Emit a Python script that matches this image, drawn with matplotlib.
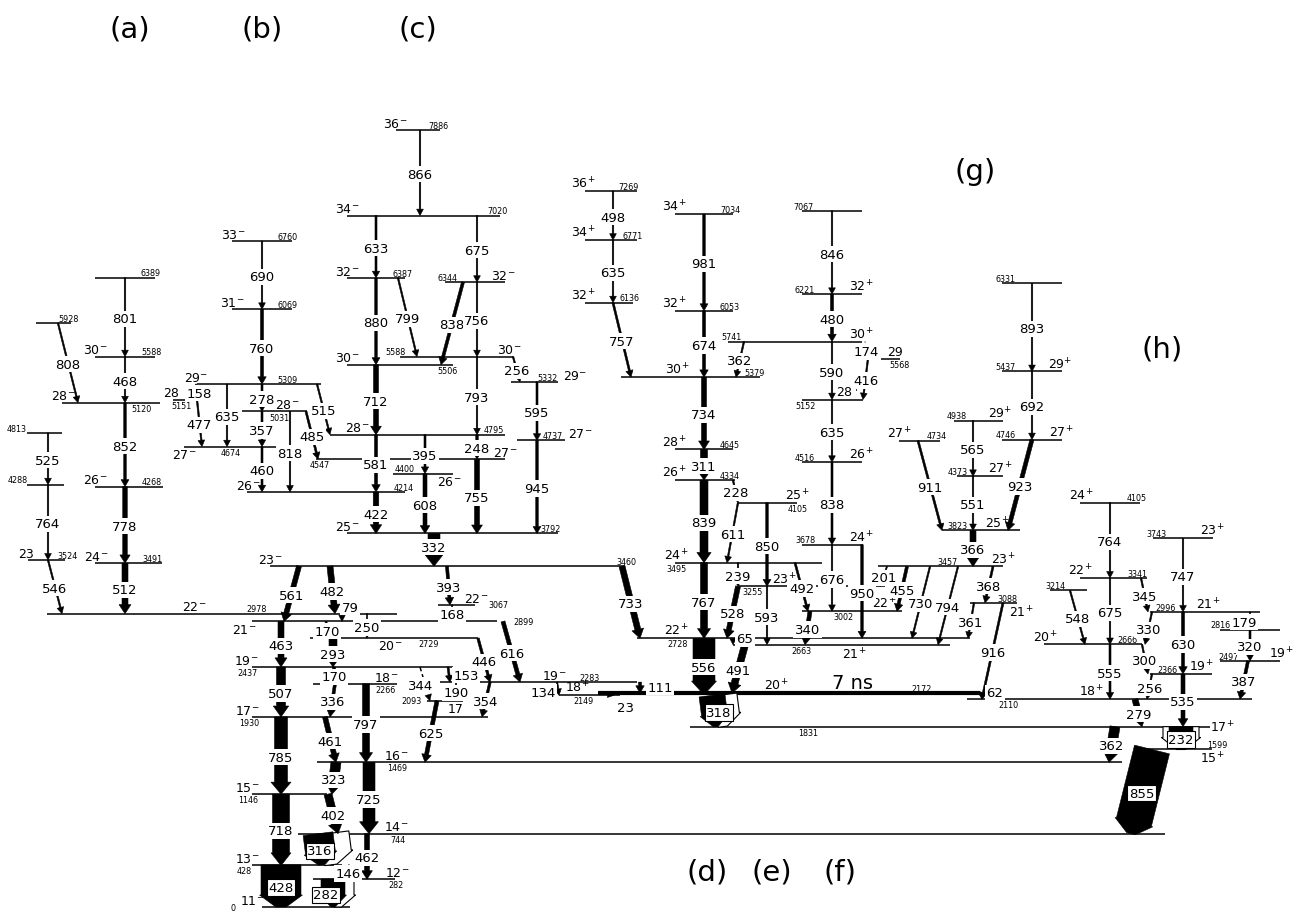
import numpy as np
import matplotlib
matplotlib.use("Agg")
import matplotlib.pyplot as plt
from matplotlib.patches import Polygon
from matplotlib.transforms import IdentityTransform

plt.rcParams['font.family'] = ['DejaVu Sans']
plt.rcParams['mathtext.default'] = 'regular'

# level energies (keV) and spins, one dict per band
band_a = {'a6389': (6389, ''), 'a5928': (5928, ''), 'a5588': (5588, '30-'), 'a5120': (5120, '28-'),
          'a4813': (4813, ''), 'a4288': (4288, ''), 'a4268': (4268, '26-'), 'a3524': (3524, '23'),
          'a3491': (3491, '24-'), 'a2978': (2978, '22-')}
band_b = {'b6760': (6760, '33-'), 'b6069': (6069, '31-'), 'b5309': (5309, '29-'), 'b5151': (5151, '28'),
          'b5031': (5031, '28-'), 'b4674': (4674, '27-'), 'b4547': (4547, '27-'), 'b4214': (4214, '26-')}
band_c = {'c7886': (7886, '36-'), 'c7020': (7020, '34-'), 'c6387': (6387, '32-'), 'c6344': (6344, '32-'),
          'c5588': (5588, '30-'), 'c5506': (5506, '30-'), 'c5332': (5332, '29-'), 'c4795': (4795, '28-'),
          'c4737': (4737, '27-'), 'c4400': (4400, '26-'), 'c3792': (3792, '25-')}
band_low = {'n3460': (3460, '23-'), 'n3067': (3067, '22-'), 'n2899': (2899, '21-'), 'n2729': (2729, '20-'),
            'n2437': (2437, '19-'), 'n2283': (2283, '19-'), 'n2266': (2266, '18-'), 'n2149': (2149, '18+'),
            'n2093': (2093, '17'), 'n1930': (1930, '17-'), 'n1469': (1469, '16-'), 'n1146': (1146, '15-'),
            'n744': (744, '14-'), 'n428': (428, '13-'), 'n282': (282, '12-'), 'n0': (0, '11-')}
band_d = {'d7269': (7269, '36+'), 'd6771': (6771, '34+'), 'd6136': (6136, '32+'), 'd7034': (7034, '34+'),
          'd6053': (6053, '32+'), 'd5741': (5741, '30+'), 'd5379': (5379, '30+'), 'd4645': (4645, '28+'),
          'd4334': (4334, '26+'), 'd4105': (4105, '25+'), 'd3495': (3495, '24+'), 'd3255': (3255, '23+'),
          'd2728': (2728, '22+'), 'd2663': (2663, '21+'), 'd2172': (2172, '20+')}
band_e = {'e7067': (7067, ''), 'e6221': (6221, '32+'), 'e5568': (5568, '29'), 'e5152': (5152, '28+'),
          'e4516': (4516, '26+'), 'e3678': (3678, '24+'), 'e3002': (3002, '22+')}
band_fg = {'f4938': (4938, '29+'), 'f4734': (4734, '27+'), 'f4373': (4373, '27+'), 'g6331': (6331, ''),
           'g5437': (5437, '29+'), 'g4746': (4746, '27+'), 'f3823': (3823, '25+'), 'f3457': (3457, '23+'),
           'f3088': (3088, '21+'), 'f2110': (2110, '18+'), 'f1831': (1831, '17+')}
band_h = {'h4105': (4105, '24+'), 'h3743': (3743, '23+'), 'h3341': (3341, '22+'), 'h3214': (3214, ''),
          'h2996': (2996, '21+'), 'h2816': (2816, ''), 'h2666': (2666, '20+'), 'h2497': (2497, '19+'),
          'h2366': (2366, '19+'), 'h1599': (1599, '15+')}

# gamma rays: (energy keV, initial level, final level)
gam_a = [(525, 'a4813', 'a4288'), (764, 'a4288', 'a3524'), (546, 'a3524', 'a2978'), (808, 'a5928', 'a5120'),
         (801, 'a6389', 'a5588'), (468, 'a5588', 'a5120'), (852, 'a5120', 'a4268'), (778, 'a4268', 'a3491'),
         (512, 'a3491', 'a2978')]
gam_b = [(690, 'b6760', 'b6069'), (760, 'b6069', 'b5309'), (158, 'b5309', 'b5151'), (477, 'b5151', 'b4674'),
         (635, 'b5309', 'b4674'), (278, 'b5309', 'b5031'), (357, 'b5031', 'b4674'), (460, 'b4674', 'b4214'),
         (818, 'b5031', 'b4214'), (515, 'b5309', 'c4795'), (485, 'b5031', 'b4547')]
gam_c = [(866, 'c7886', 'c7020'), (633, 'c7020', 'c6387'), (675, 'c7020', 'c6344'), (880, 'c6387', 'c5506'),
         (799, 'c6387', 'c5588'), (838, 'c6344', 'c5506'), (756, 'c6344', 'c5588'), (256, 'c5588', 'c5332'),
         (712, 'c5506', 'c4795'), (793, 'c5588', 'c4795'), (595, 'c5332', 'c4737'), (945, 'c4737', 'c3792'),
         (581, 'c4795', 'b4214'), (395, 'c4795', 'c4400'), (248, 'c4795', 'b4547'), (608, 'c4400', 'c3792'),
         (755, 'b4547', 'c3792'), (422, 'b4214', 'c3792'), (332, 'c3792', 'n3460')]
gam_low = [(561, 'n3460', 'n2899'), (482, 'n3460', 'a2978'), (79, 'a2978', 'n2899'), (393, 'n3460', 'n3067'),
           (168, 'n3067', 'n2899'), (250, 'a2978', 'n2729'), (170, 'n2899', 'n2729'), (293, 'n2729', 'n2437'),
           (446, 'n2729', 'n2283'), (616, 'n2899', 'n2283'), (463, 'n2899', 'n2437'), (170, 'n2437', 'n2266'),
           (336, 'n2266', 'n1930'), (797, 'n2266', 'n1469'), (507, 'n2437', 'n1930'), (344, 'n2437', 'n2093'),
           (153, 'n2437', 'n2283'), (190, 'n2283', 'n2093'), (625, 'n2093', 'n1469'), (354, 'n2283', 'n1930'),
           (134, 'n2283', 'n2149'), (111, 'n2283', 'd2172'), (23, 'd2172', 'n2149'), (785, 'n1930', 'n1146'),
           (461, 'n1930', 'n1469'), (323, 'n1469', 'n1146'), (402, 'n1146', 'n744'), (725, 'n1469', 'n744'),
           (718, 'n1146', 'n428'), (462, 'n744', 'n282'), (316, 'n744', 'n428'), (146, 'n428', 'n282'),
           (428, 'n428', 'n0'), (282, 'n282', 'n0')]
gam_d = [(498, 'd7269', 'd6771'), (635, 'd6771', 'd6136'), (757, 'd6136', 'd5379'), (981, 'd7034', 'd6053'),
         (674, 'd6053', 'd5379'), (362, 'd5741', 'd5379'), (734, 'd5379', 'd4645'), (311, 'd4645', 'd4334'),
         (228, 'd4334', 'd4105'), (839, 'd4334', 'd3495'), (611, 'd4105', 'd3495'), (850, 'd4105', 'd3255'),
         (767, 'd3495', 'd2728'), (239, 'd3495', 'd3255'), (528, 'd3255', 'd2728'), (492, 'd3495', 'e3002'),
         (593, 'd3255', 'd2663'), (733, 'n3460', 'd2728'), (556, 'd2728', 'd2172'), (65, 'd2728', 'd2663'),
         (491, 'd2663', 'd2172'), (318, 'n2149', 'f1831')]
gam_e = [(846, 'e7067', 'e6221'), (480, 'e6221', 'd5741'), (590, 'd5741', 'e5152'), (174, 'd5741', 'e5568'),
         (416, 'e5568', 'e5152'), (635, 'e5152', 'e4516'), (838, 'e4516', 'e3678'), (676, 'e3678', 'e3002'),
         (950, 'e3678', 'd2728'), (340, 'e3002', 'd2663')]
gam_fg = [(911, 'f4734', 'f3823'), (565, 'f4938', 'f4373'), (551, 'f4373', 'f3823'), (893, 'g6331', 'g5437'),
          (692, 'g5437', 'g4746'), (923, 'g4746', 'f3823'), (366, 'f3823', 'f3457'), (201, 'f3457', 'd3255'),
          (455, 'f3457', 'e3002'), (730, 'f3457', 'd2728'), (794, 'f3457', 'd2663'), (368, 'f3457', 'f3088'),
          (361, 'f3088', 'd2728'), (916, 'f3088', 'f2110'), (62, 'd2172', 'f2110'), (279, 'f2110', 'f1831'),
          (362, 'f1831', 'n1469'), (232, 'f1831', 'h1599'), (855, 'h1599', 'n744')]
gam_h = [(764, 'h4105', 'h3341'), (675, 'h3341', 'h2666'), (345, 'h3341', 'h2996'), (548, 'h3214', 'h2666'),
         (555, 'h2666', 'f2110'), (747, 'h3743', 'h2996'), (330, 'h2996', 'h2666'), (630, 'h2996', 'h2366'),
         (300, 'h2666', 'h2366'), (256, 'h2366', 'f2110'), (535, 'h2366', 'f1831'), (179, 'h2996', 'h2816'),
         (320, 'h2816', 'h2497'), (387, 'h2497', 'f2110')]

band_tags = ['(a)', '(b)', '(c)', '(d)', '(e)', '(f)', '(g)', '(h)']

# ---------------- layout ----------------
# level: (x0, x1, spin x, spin place, energy x, energy place); place a=above, b=below, m=on line
level_geo = {
    'a6389': (95, 155, None, None, 151, 'a'), 'a5928': (36, 71, None, None, 69, 'a'),
    'a5588': (95, 155, 95, 'a', 151, 'a'), 'a5120': (62, 160, 63, 'a', 142, 'b'),
    'a4813': (27, 62, None, None, 17, 'a'), 'a4288': (27, 64, None, None, 18, 'a'),
    'a4268': (95, 163, 95, 'a', 152, 'a'), 'a3524': (28, 65, 26, 'a', 68, 'a'),
    'a3491': (95, 162, 96, 'a', 152, 'a'), 'a2978': (47, 397, 194, 'a', 257, 'a'),
    'b6760': (232, 292, 233, 'a', 288, 'a'), 'b6069': (232, 292, 232, 'a', 288, 'a'),
    'b5309': (197, 321, 196, 'a', 287, 'a'), 'b5151': (173, 212, 171, 'a', 182, 'b'),
    'b5031': (242, 307, 287, 'a', 279, 'b'), 'b4674': (184, 277, 184, 'b', 231, 'b'),
    'b4547': (316, 505, 505, 'a', 320, 'b'), 'b4214': (247, 405, 248, 'a', 404, 'a'),
    'c7886': (396, 440, 395, 'a', 438, 'a'), 'c7020': (347, 500, 347, 'a', 497, 'a'),
    'c6387': (347, 405, 347, 'a', 403, 'a'), 'c6344': (445, 505, 503, 'a', 447, 'a'),
    'c5588': (400, 513, 509, 'a', 396, 'a'), 'c5506': (347, 453, 347, 'a', 448, 'b'),
    'c5332': (511, 558, 575, 'a', 548, 'a'), 'c4795': (330, 505, 357, 'a', 494, 'a'),
    'c4737': (517, 565, 580, 'a', 553, 'a'), 'c4400': (393, 453, 449, 'b', 405, 'a'),
    'c3792': (347, 558, 347, 'a', 551, 'a'),
    'n3460': (270, 625, 270, 'a', 626, 'a'), 'n3067': (438, 475, 476, 'a', 498, 'm'),
    'n2899': (252, 497, 244, 'b', 524, 'm'), 'n2729': (310, 478, 390, 'b', 429, 'b'),
    'n2437': (252, 453, 246, 'a', 248, 'b'), 'n2283': (440, 637, 554, 'a', 590, 'a'),
    'n2266': (313, 397, 386, 'a', 386, 'b'), 'n2149': (559, 620, 577, 'a', 583, 'b'),
    'n2093': (427, 463, 456, 'b', 411, 'm'), 'n1930': (252, 488, 247, 'a', 249, 'b'),
    'n1469': (317, 1122, 396, 'a', 397, 'b'), 'n1146': (252, 327, 247, 'a', 248, 'b'),
    'n744': (298, 1165, 396, 'a', 398, 'b'), 'n428': (252, 342, 247, 'a', 244, 'b'),
    'n282': (313, 395, 397, 'a', 396, 'b'), 'n0': (262, 350, 252, 'a', 233, 'm'),
    'd7269': (585, 637, 583, 'a', 629, 'a'), 'd6771': (585, 637, 583, 'a', 633, 'a'),
    'd6136': (585, 633, 583, 'a', 630, 'a'), 'd7034': (675, 733, 674, 'a', 730, 'a'),
    'd6053': (675, 733, 674, 'a', 730, 'a'), 'd5741': (728, 862, 861, 'a', 732, 'a'),
    'd5379': (621, 760, 677, 'a', 755, 'a'), 'd4645': (675, 733, 674, 'a', 730, 'a'),
    'd4334': (675, 735, 674, 'a', 730, 'a'), 'd4105': (738, 797, 797, 'a', 798, 'b'),
    'd3495': (675, 822, 676, 'a', 677, 'b'), 'd3255': (738, 885, 784, 'a', 753, 'b'),
    'd2728': (637, 970, 676, 'a', 678, 'b'), 'd2663': (733, 950, 854, 'b', 801, 'b'),
    'd2172': (598, 980, 776, 'a', 922, 'a'),
    'e7067': (802, 862, None, None, 804, 'a'), 'e6221': (802, 862, 861, 'a', 805, 'a'),
    'e5568': (868, 900, 895, 'a', 899, 'b'), 'e5152': (802, 863, 848, 'a', 806, 'b'),
    'e4516': (802, 862, 861, 'a', 805, 'a'), 'e3678': (802, 863, 861, 'a', 805, 'a'),
    'e3002': (802, 902, 884, 'a', 843, 'b'),
    'f4938': (954, 1003, 1000, 'a', 957, 'a'), 'f4734': (899, 940, 899, 'a', 937, 'a'),
    'f4373': (957, 1003, 1000, 'a', 958, 'a'), 'g6331': (1002, 1062, None, None, 1005, 'a'),
    'g5437': (1002, 1062, 1060, 'a', 1005, 'a'), 'g4746': (1002, 1062, 1061, 'a', 1006, 'a'),
    'f3823': (942, 1020, 997, 'a', 957, 'a'), 'f3457': (878, 1003, 1003, 'a', 948, 'a'),
    'f3088': (970, 1017, 1021, 'b', 1007, 'a'), 'f2110': (967, 1252, 1091, 'a', 1008, 'b'),
    'f1831': (690, 1210, 1222, 'm', 808, 'b'),
    'h4105': (1080, 1140, 1081, 'a', 1137, 'a'), 'h3743': (1153, 1213, 1212, 'a', 1156, 'a'),
    'h3341': (1080, 1147, 1080, 'a', 1137, 'a'), 'h3214': (1050, 1087, None, None, 1055, 'a'),
    'h2996': (1150, 1260, 1208, 'a', 1166, 'a'), 'h2816': (1220, 1280, None, None, 1220, 'a'),
    'h2666': (1044, 1142, 1045, 'a', 1127, 'a'), 'h2497': (1220, 1280, 1281, 'a', 1229, 'a'),
    'h2366': (1150, 1212, 1201, 'a', 1167, 'a'), 'h1599': (1137, 1212, 1212, 'b', 1217, 'a'),
}
thick_levels = ['d2172']

# arrow: (x at top, x at bottom, width px, options)
gamma_geo = {
    ('a4813', 'a4288'): (48, 48, 1.5), ('a4288', 'a3524'): (48, 48, 1.5), ('a3524', 'a2978'): (48, 62, 1.5),
    ('a5928', 'a5120'): (58, 78, 1.5), ('a6389', 'a5588'): (125, 125, 1.5), ('a5588', 'a5120'): (125, 125, 1.5),
    ('a5120', 'a4268'): (125, 125, 2.5), ('a4268', 'a3491'): (125, 125, 4.5), ('a3491', 'a2978'): (125, 125, 6),
    ('b6760', 'b6069'): (262, 262, 1.5), ('b6069', 'b5309'): (262, 262, 3),
    ('b5309', 'b5151'): (196, 196, 1.2, {'lab': (3, 0)}), ('b5151', 'b4674'): (197, 202, 1.5),
    ('b5309', 'b4674'): (227, 227, 1.5), ('b5309', 'b5031'): (262, 262, 2), ('b5031', 'b4674'): (262, 262, 2),
    ('b4674', 'b4214'): (262, 262, 2), ('b5031', 'b4214'): (290, 290, 1.5), ('b5309', 'c4795'): (317, 330, 1.5),
    ('b5031', 'b4547'): (306, 318, 2),
    ('c7886', 'c7020'): (420, 420, 1.5), ('c7020', 'c6387'): (376, 376, 2), ('c7020', 'c6344'): (477, 477, 1.5),
    ('c6387', 'c5506'): (376, 376, 2.5), ('c6387', 'c5588'): (398, 417, 1.5), ('c6344', 'c5506'): (463, 441, 3),
    ('c6344', 'c5588'): (477, 477, 1.5), ('c5588', 'c5332'): (513, 520, 1.5), ('c5506', 'c4795'): (376, 376, 5),
    ('c5588', 'c4795'): (477, 477, 1.5), ('c5332', 'c4737'): (537, 537, 2), ('c4737', 'c3792'): (537, 537, 2.5),
    ('c4795', 'b4214'): (376, 376, 3), ('c4795', 'c4400'): (425, 425, 2), ('c4795', 'b4547'): (477, 477, 2.5),
    ('c4400', 'c3792'): (425, 425, 4), ('b4547', 'c3792'): (477, 477, 5), ('b4214', 'c3792'): (376, 376, 5.5),
    ('c3792', 'n3460'): (434, 434, 12, {'lab': (0, 4)}),
    ('n3460', 'n2899'): (299, 284, 5), ('n3460', 'a2978'): (330, 335, 6),
    ('a2978', 'n2899'): (342, 342, 1.2, {'lab': (8, 12)}), ('n3460', 'n3067'): (447, 450, 3),
    ('n3067', 'n2899'): (452, 452, 1.2), ('a2978', 'n2729'): (367, 367, 1.2), ('n2899', 'n2729'): (326, 328, 2),
    ('n2729', 'n2437'): (333, 333, 8), ('n2729', 'n2283'): (478, 490, 2.5), ('n2899', 'n2283'): (503, 520, 4),
    ('n2899', 'n2437'): (281, 281, 6), ('n2437', 'n2266'): (334, 334, 3), ('n2266', 'n1930'): (335, 330, 3),
    ('n2266', 'n1469'): (366, 366, 7), ('n2437', 'n1930'): (281, 281, 9),
    ('n2437', 'n2093'): (420, 430, 1.5, {'ls': 'dash', 'lab': (-4, 0)}),
    ('n2437', 'n2283'): (448, 450, 2, {'lab': (17, 1)}), ('n2283', 'n2093'): (456, 456, 1.2),
    ('n2093', 'n1469'): (437, 425, 4), ('n2283', 'n1930'): (490, 482, 2.5),
    ('n2283', 'n2149'): (557, 559, 1.5, {'lab': (-15, -2)}), ('n2283', 'd2172'): (640, 640, 3, {'lab': (20, 2)}),
    ('d2172', 'n2149'): (600, 614, 1.2, {'lab': (18, -12)}), ('n1930', 'n1146'): (281, 281, 13),
    ('n1930', 'n1469'): (325, 336, 5), ('n1469', 'n1146'): (336, 332, 10), ('n1146', 'n744'): (328, 338, 8),
    ('n1469', 'n744'): (369, 369, 12), ('n1146', 'n428'): (281, 281, 17), ('n744', 'n282'): (367, 367, 5),
    ('n744', 'n428'): (318, 322, 30, {'box': True, 'open': (44, 9)}), ('n428', 'n282'): (349, 347, 1.2),
    ('n428', 'n0'): (281, 281, 40, {'box': True}),
    ('n282', 'n0'): (333, 333, 24, {'box': True, 'open': (32, 5), 'lab': (-7, 0)}),
    ('d7269', 'd6771'): (613, 613, 1.5), ('d6771', 'd6136'): (613, 613, 1.5), ('d6136', 'd5379'): (613, 631, 2),
    ('d7034', 'd6053'): (704, 704, 2.5), ('d6053', 'd5379'): (704, 704, 3), ('d5741', 'd5379'): (744, 736, 1.5),
    ('d5379', 'd4645'): (704, 704, 5), ('d4645', 'd4334'): (704, 704, 7), ('d4334', 'd4105'): (733, 738, 1.5),
    ('d4334', 'd3495'): (704, 704, 8), ('d4105', 'd3495'): (738, 727, 1.5), ('d4105', 'd3255'): (767, 767, 2.5),
    ('d3495', 'd2728'): (704, 704, 7), ('d3495', 'd3255'): (738, 738, 1.5), ('d3255', 'd2728'): (738, 727, 5),
    ('d3495', 'e3002'): (795, 808, 2), ('d3255', 'd2663'): (767, 767, 1.5), ('n3460', 'd2728'): (622, 640, 6),
    ('d2728', 'd2172'): (704, 704, 22), ('d2728', 'd2663'): (733, 733, 1.2, {'lab': (12, 4)}),
    ('d2663', 'd2172'): (745, 732, 7),
    ('n2149', 'f1831'): (712, 716, 26, {'box': True, 'open': (36, 7), 'lab': (5, 0)}),
    ('e7067', 'e6221'): (832, 832, 1.5), ('e6221', 'd5741'): (832, 832, 3), ('d5741', 'e5152'): (832, 832, 1.5),
    ('d5741', 'e5568'): (865, 868, 1, {'ls': 'dot'}), ('e5568', 'e5152'): (868, 863, 1.5),
    ('e5152', 'e4516'): (832, 832, 1.5), ('e4516', 'e3678'): (832, 832, 2), ('e3678', 'e3002'): (832, 832, 1.5),
    ('e3678', 'd2728'): (862, 862, 2.5), ('e3002', 'd2663'): (810, 805, 4),
    ('f4734', 'f3823'): (918, 942, 2), ('f4938', 'f4373'): (973, 973, 1.5), ('f4373', 'f3823'): (973, 973, 1.5),
    ('g6331', 'g5437'): (1032, 1032, 1.5), ('g5437', 'g4746'): (1032, 1032, 1.5),
    ('g4746', 'f3823'): (1032, 1008, 4), ('f3823', 'f3457'): (973, 973, 6), ('f3457', 'd3255'): (887, 880, 1.2),
    ('f3457', 'e3002'): (907, 897, 3), ('f3457', 'd2728'): (930, 912, 1.5), ('f3457', 'd2663'): (958, 938, 1.5),
    ('f3457', 'f3088'): (993, 985, 2), ('f3088', 'd2728'): (974, 968, 1.5), ('f3088', 'f2110'): (1003, 982, 2),
    ('d2172', 'f2110'): (982, 982, 3, {'lab': (13, 5)}), ('f2110', 'f1831'): (1135, 1142, 6),
    ('f1831', 'n1469'): (1115, 1109, 10), ('f1831', 'h1599'): (1181, 1181, 24, {'box': True, 'open': (36, 0)}),
    ('h1599', 'n744'): (1152, 1131, 36, {'box': True}),
    ('h4105', 'h3341'): (1110, 1110, 1.5), ('h3341', 'h2666'): (1110, 1110, 1.5),
    ('h3341', 'h2996'): (1141, 1148, 1.5), ('h3214', 'h2666'): (1070, 1085, 1.5),
    ('h2666', 'f2110'): (1110, 1110, 2), ('h3743', 'h2996'): (1183, 1183, 1.5),
    ('h2996', 'h2666'): (1152, 1145, 1.5), ('h2996', 'h2366'): (1183, 1183, 3),
    ('h2666', 'h2366'): (1142, 1148, 1.5), ('h2366', 'f2110'): (1152, 1147, 1.5),
    ('h2366', 'f1831'): (1183, 1183, 4), ('h2996', 'h2816'): (1250, 1250, 1.2, {'lab': (-6, 0)}),
    ('h2816', 'h2497'): (1250, 1250, 2), ('h2497', 'f2110'): (1248, 1240, 3),
}
# band letters, pixel positions from the top-left corner
tag_pos = [(130, 30), (262, 30), (418, 30), (707, 873), (772, 873), (840, 873), (975, 172), (1162, 350)]

levels = {}
for band in (band_a, band_b, band_c, band_low, band_d, band_e, band_fg, band_h):
    levels.update(band)
gammas = gam_a + gam_b + gam_c + gam_low + gam_d + gam_e + gam_fg + gam_h

fig = plt.figure(figsize=(12.94, 9.12), dpi=100)
ax = fig.add_axes([0, 0, 1, 1])
ax.set_xlim(0, 1294)
ax.set_ylim(-40.6, 9218.3)
ax.axis('off')
PX = IdentityTransform()


def spin_text(s):
    if s.endswith('-') or s.endswith('+'):
        return s[:-1] + '$^{' + s[-1] + '}$'
    return s


def place(x, E, s, where, size):
    dy, va = {'a': (0.2, 'bottom'), 'b': (-0.8, 'top'), 'm': (0, 'center')}[where]
    ax.annotate(s, (x, E), xytext=(0, dy), textcoords='offset points',
                ha='center', va=va, fontsize=size, zorder=3)


def arrow_poly(p0, p1, w):
    d = p1 - p0
    u = d / np.hypot(*d)
    n = np.array([-u[1], u[0]])
    hl = min(5.5 + 0.6 * w, 12)
    hw = w / 2 + (2.5 + 0.08 * w if w < 15 else 1.5)
    tip = max(0.0, (w - 14) * 0.2)
    b = p1 - u * hl
    return np.array([p0 + n * w / 2, b + n * w / 2, b + n * hw, p1 + n * tip,
                     p1 - n * tip, b - n * hw, b - n * w / 2, p0 - n * w / 2]), b, n, hw


# levels
for key, (x0, x1, sx, sp, ex, ep) in level_geo.items():
    E, spin = levels[key]
    ax.hlines(E, x0, x1, color='black', lw=3.0 if key in thick_levels else 1.1, zorder=1)
    if spin:
        place(sx, E, spin_text(spin), sp, 9)
    place(ex, E, str(E), ep, 5.8)

ax.annotate('7 ns', (853, levels['d2172'][0]), xytext=(0, 1), textcoords='offset points',
            ha='center', va='bottom', fontsize=14, zorder=3)

# gamma transitions
for eg, src, dst in gammas:
    geo = gamma_geo[(src, dst)]
    xt, xb, w = geo[:3]
    opt = geo[3] if len(geo) > 3 else {}
    p0 = ax.transData.transform((xt, levels[src][0]))
    p1 = ax.transData.transform((xb, levels[dst][0]))
    if 'open' in opt:
        wo, off = opt['open']
        q = arrow_poly(p0 + [off, 0], p1 + [off, 0], wo)[0]
        ax.add_patch(Polygon(q, closed=True, transform=PX, fc='white', ec='black', lw=0.8, zorder=2))
    pts, b, n, hw = arrow_poly(p0, p1, w)
    ls = opt.get('ls')
    if ls:
        dash = (3, 2) if ls == 'dash' else (1, 1.5)
        ax.plot([p0[0], b[0]], [p0[1], b[1]], transform=PX, color='black', lw=w * 0.72,
                dashes=dash, zorder=2.5)
        ax.add_patch(Polygon([b + n * hw, p1, b - n * hw], closed=True, transform=PX,
                             fc='black', ec='black', lw=0.3, zorder=2.5))
    else:
        ax.add_patch(Polygon(pts, closed=True, transform=PX, fc='black', ec='black', lw=0.4, zorder=2.5))
    m = (p0 + p1) / 2 + np.array(opt.get('lab', (0, 0)))
    box = dict(boxstyle='square,pad=0.12', fc='white',
               ec='black' if opt.get('box') else 'none', lw=0.8)
    ax.text(m[0], m[1], str(eg), transform=PX, ha='center', va='center_baseline',
            fontsize=9.5, bbox=box, zorder=4)

for tag, (tx, ty) in zip(band_tags, tag_pos):
    ax.text(tx, 912 - ty, tag, transform=PX, ha='center', va='center', fontsize=21)

fig.savefig('out.png', dpi=100, facecolor='white')
